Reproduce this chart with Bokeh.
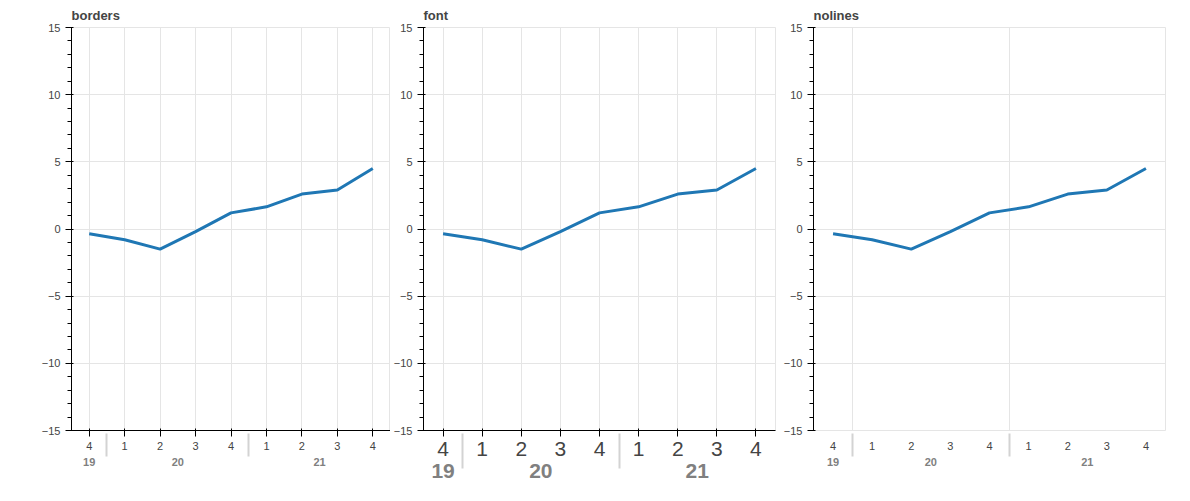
from bokeh.plotting import figure
from bokeh.models import (FactorRange, Range1d, FixedTicker, Span, Legend,
                          LegendItem, ColumnDataSource)
from bokeh.layouts import row
from bokeh.embed import file_html
from bokeh.resources import INLINE

years = ["19", "20", "20", "20", "20", "21", "21", "21", "21"]
quarters = ["4", "1", "2", "3", "4", "1", "2", "3", "4"]
cusum = [-0.35, -0.8, -1.5, -0.2, 1.2, 1.65, 2.6, 2.9, 4.5]

def make(variant):
    factors = list(zip(years, quarters))
    src = ColumnDataSource(dict(x=factors, cusum=cusum))
    x_range = FactorRange(*factors, factor_padding=0, group_padding=0,
                          subgroup_padding=0, range_padding=0)
    kw = {}
    if variant == "borders":
        kw = dict(min_border_left=71, min_border_right=0, min_border_top=19)
    p = figure(x_range=x_range, y_range=Range1d(-15, 15), width=390, height=480,
               output_backend="svg", toolbar_location=None, title=variant, **kw)
    if variant == "font":
        p.xaxis.major_label_text_font_size = "21px"
        p.xaxis.group_text_font_size = "21px"
    if variant == "nolines":
        p.xaxis.axis_line_color = None
        p.xaxis.major_tick_line_color = None
        p.xaxis.minor_tick_line_color = None
        p.xgrid.ticker = FixedTicker(ticks=[1, 5])
    l = p.line("x", "cusum", source=src, line_width=3)
    return p

lay = row(make("borders"), make("font"), make("nolines"))
open("out.html", "w").write(file_html(lay, INLINE))
